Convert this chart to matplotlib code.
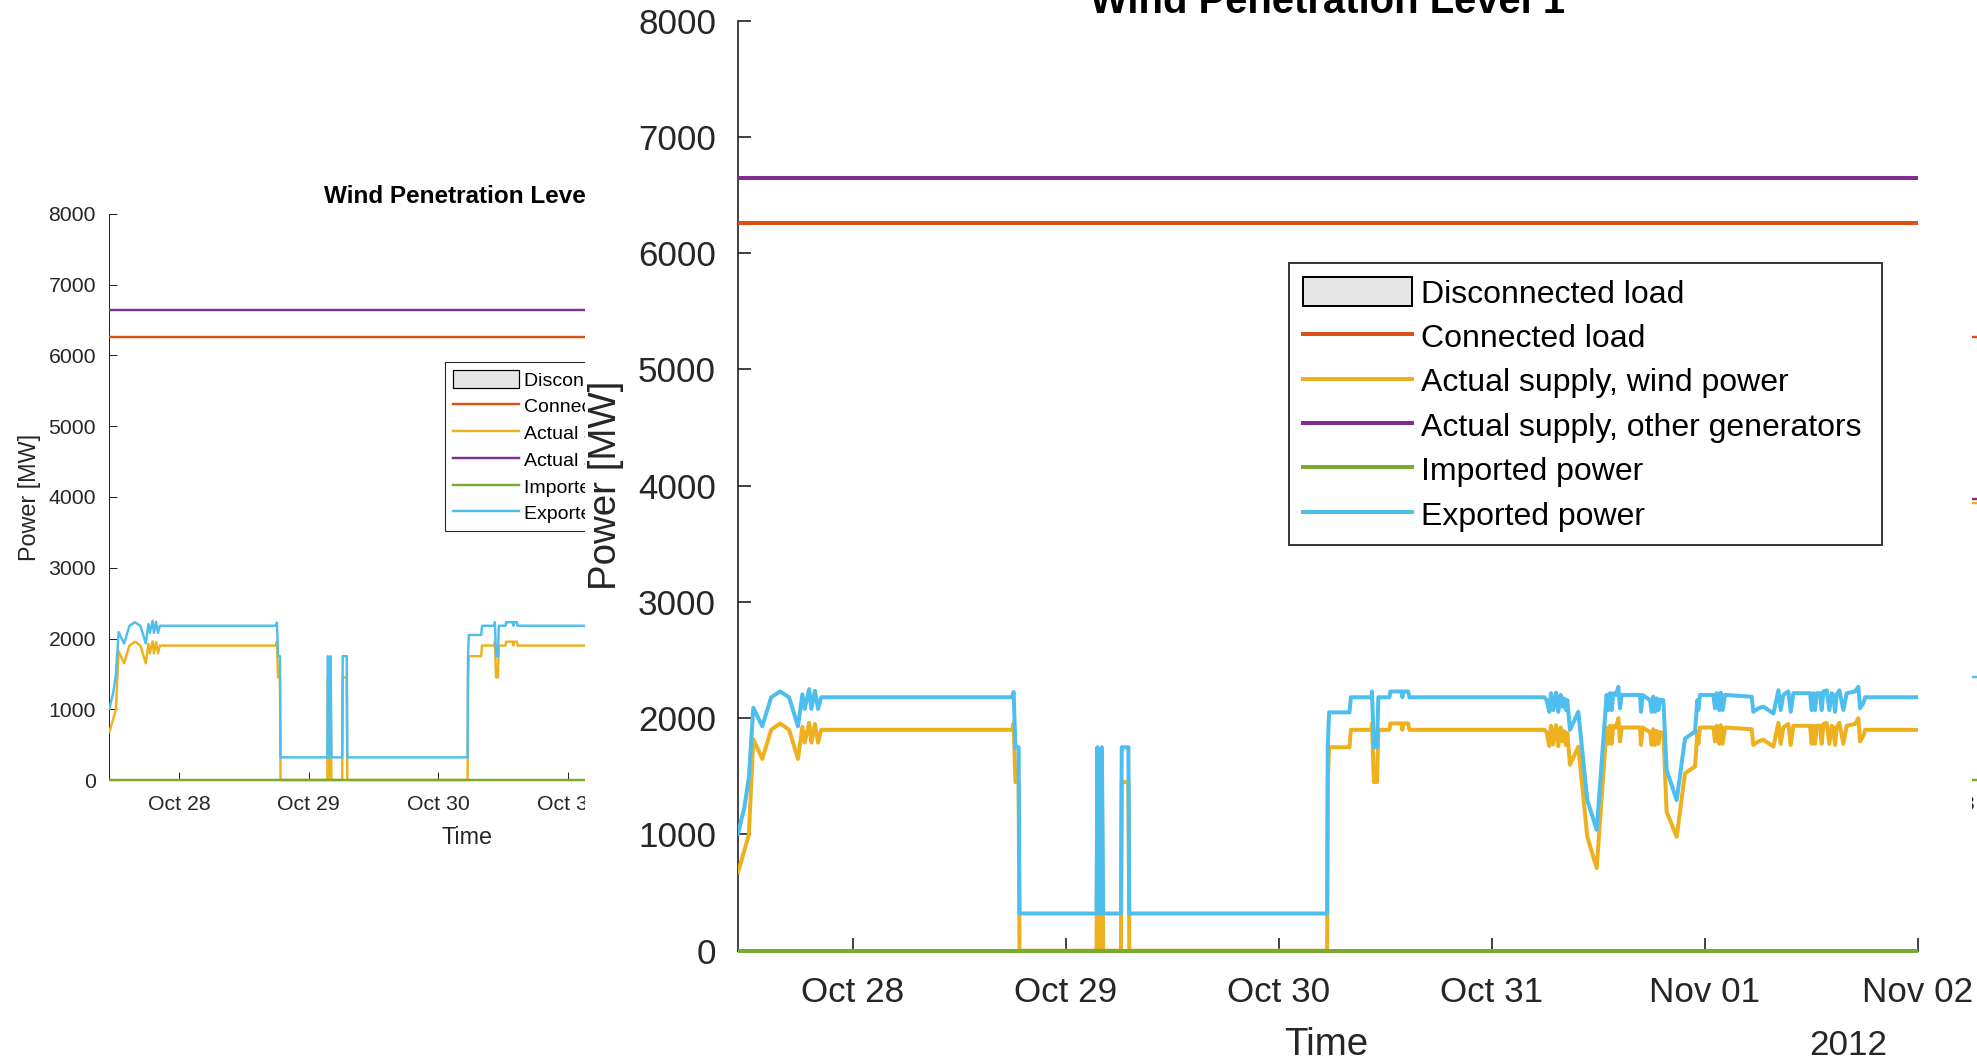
import numpy as np
import matplotlib
matplotlib.use("Agg")
import matplotlib.pyplot as plt
import matplotlib.dates as mdates
from matplotlib.patches import Rectangle, Patch
from matplotlib.transforms import Bbox, TransformedBbox
from datetime import datetime

plt.rcParams['font.family'] = ['Liberation Sans', 'DejaVu Sans']

# ---------------------------------------------------------------------------
# Data: hours after 2012-10-28 00:00, power in MW
# ---------------------------------------------------------------------------
hours = [
    -13.00, -12.23, -11.72, -11.22, -10.21, -9.21, -8.20, -7.19, -6.19, -5.69,
    -5.43, -4.93, -4.68, -4.28, -3.92, -3.57, 17.96, 18.11, 18.31, 18.67,
    18.77, 27.45, 27.55, 27.70, 27.95, 28.05, 28.20, 30.20, 30.29, 31.04,
    31.14, 53.43, 53.50, 53.65, 55.95, 56.10, 58.40, 58.48, 58.70, 59.05,
    59.20, 60.45, 60.55, 61.80, 61.90, 62.05, 62.55, 62.70, 77.90, 78.16,
    78.46, 78.65, 78.91, 79.21, 79.48, 79.74, 79.97, 80.12, 80.34, 80.49,
    80.79, 81.73, 82.74, 83.80, 84.92, 85.11, 85.30, 85.49, 85.67, 85.97,
    86.24, 86.43, 86.61, 88.68, 88.79, 88.98, 89.81, 90.00, 90.18, 90.37,
    90.56, 90.75, 90.93, 91.31, 91.68, 92.81, 93.75, 94.88, 95.14, 95.25,
    95.44, 96.94, 97.13, 97.32, 97.62, 97.77, 97.99, 98.26, 101.26, 101.45,
    102.01, 102.58, 103.71, 104.27, 104.53, 104.83, 105.39, 105.66, 105.96, 107.84,
    108.02, 108.21, 108.40, 108.59, 108.96, 109.15, 109.34, 109.71, 110.01, 110.28,
    110.46, 110.65, 110.84, 111.14, 111.59, 111.97, 112.91, 113.28, 113.47, 113.85,
    114.04, 144.00,
]

exported_mw = [
    990, 1230, 1490, 2090, 1930, 2180, 2230, 2180, 1930, 2205,
    2080, 2250, 2080, 2235, 2080, 2180, 2180, 2225, 1750, 1750,
    320, 320, 1750, 320, 320, 1750, 320, 320, 1750, 1750,
    320, 320, 1750, 2050, 2050, 2180, 2180, 2230, 1750, 1750,
    2180, 2180, 2230, 2230, 2180, 2230, 2230, 2180, 2180, 2155,
    2055, 2215, 2070, 2220, 2055, 2200, 2100, 2170, 2070, 2155,
    1900, 2055, 1295, 1040, 2200, 2070, 2215, 2070, 2215, 2200,
    2270, 2085, 2200, 2200, 2055, 2200, 2155, 2055, 2185, 2055,
    2170, 2070, 2160, 2155, 1555, 1295, 1825, 1885, 2155, 2070,
    2200, 2200, 2085, 2215, 2070, 2220, 2070, 2200, 2185, 2055,
    2085, 2100, 2040, 2240, 2070, 2200, 2230, 2055, 2215, 2215,
    2070, 2215, 2070, 2215, 2215, 2070, 2230, 2240, 2070, 2215,
    2200, 2055, 2200, 2240, 2070, 2215, 2230, 2270, 2085, 2130,
    2180, 2180,
]

wind_mw = [
    660, 860, 1000, 1820, 1650, 1900, 1955, 1900, 1650, 1925,
    1790, 1960, 1790, 1950, 1790, 1900, 1900, 1955, 1450, 1450,
    0, 0, 1450, 0, 0, 1450, 0, 0, 1450, 1450,
    0, 0, 1450, 1750, 1750, 1900, 1900, 1955, 1450, 1450,
    1900, 1900, 1955, 1955, 1900, 1955, 1955, 1900, 1900, 1880,
    1760, 1935, 1775, 1940, 1760, 1920, 1800, 1890, 1770, 1875,
    1600, 1755, 980, 710, 1920, 1780, 1935, 1780, 1935, 1920,
    2000, 1800, 1920, 1920, 1770, 1920, 1880, 1770, 1905, 1770,
    1890, 1780, 1880, 1875, 1195, 980, 1525, 1585, 1880, 1780,
    1920, 1920, 1800, 1935, 1780, 1940, 1780, 1920, 1905, 1770,
    1800, 1815, 1755, 1960, 1780, 1920, 1950, 1770, 1935, 1935,
    1780, 1935, 1780, 1935, 1935, 1780, 1950, 1960, 1780, 1935,
    1920, 1770, 1920, 1960, 1780, 1935, 1950, 2000, 1800, 1850,
    1900, 1900,
]

connected_load_mw = 6260
other_generators_mw = 6645
imported_mw = 0

# Second scenario, only its opening hours
level2_hours = [-13.0, 12.0]
level2_connected_mw = [6260, 6260]
level2_other_mw = [3965, 3965]
level2_wind_mw = [3915, 3915]
level2_exported_mw = [1455, 1455]
level2_imported_mw = [0, 0]

legend_labels = ['Disconnected load', 'Connected load', 'Actual supply, wind power',
                 'Actual supply, other generators', 'Imported power', 'Exported power']

C_CONN = '#D95319'
C_WIND = '#EDB120'
C_OTHER = '#7E2F8E'
C_IMP = '#77AC30'
C_EXP = '#4DBEEE'
C_AX = '#262626'

W, H = 1977, 1062
PX = 0.72  # points per pixel at 100 dpi

BASE = mdates.date2num(datetime(2012, 10, 28))
X0 = mdates.date2num(datetime(2012, 10, 27, 11))
X1 = mdates.date2num(datetime(2012, 11, 2))


def to_x(h):
    return BASE + np.asarray(h, dtype=float) / 24.0


def draw_panel(ax, s, h, conn, wind, other, imp, exp, title, title_gap_px, height_px):
    lw = 4.0 * s * PX
    t = to_x(h)
    # clip to the x range only, so the zero line keeps its full width
    clip = TransformedBbox(Bbox([[0, -0.05], [1, 1.05]]), ax.transAxes)
    for y, c in ((conn, C_CONN), (wind, C_WIND), (other, C_OTHER), (imp, C_IMP), (exp, C_EXP)):
        ln, = ax.plot(t, y, color=c, lw=lw, zorder=3, solid_capstyle='butt')
        ln.set_clip_box(clip)
        ln.set_clip_path(None)

    ax.set_xlim(X0, X1)
    ax.set_ylim(0, 8000)
    ax.set_yticks(np.arange(0, 8001, 1000))
    ax.xaxis.set_major_locator(mdates.DayLocator())
    ax.xaxis.set_major_formatter(mdates.DateFormatter('%b %d'))

    for side in ('top', 'right'):
        ax.spines[side].set_visible(False)
    for side in ('left', 'bottom'):
        ax.spines[side].set_linewidth(1.7 * s * PX)
        ax.spines[side].set_color(C_AX)

    tick_fs = 35 * s * PX
    ax.tick_params(direction='in', length=13 * s * PX, width=1.7 * s * PX,
                   colors=C_AX, labelsize=tick_fs)
    ax.tick_params(axis='y', pad=21.5 * s * PX)
    ax.tick_params(axis='x', pad=25 * s * PX)

    label_fs = 38.5 * s * PX
    ax.text(-0.1114, 0.5, 'Power [MW]', rotation=90, ha='center', va='center',
            transform=ax.transAxes, fontsize=label_fs, color=C_AX)
    ax.text(0.4985, -0.1122, 'Time', ha='center', va='baseline',
            transform=ax.transAxes, fontsize=label_fs, color=C_AX)
    ax.text(0.9407, -0.1122, '2012', ha='center', va='baseline',
            transform=ax.transAxes, fontsize=tick_fs, color=C_AX)
    ax.text(0.5, 1 + title_gap_px / height_px, title, ha='center', va='baseline',
            transform=ax.transAxes, fontsize=40 * s * PX, fontweight='bold', color='black')

    handles = [
        Patch(facecolor='#E6E6E6', edgecolor='black', linewidth=2.0 * s * PX),
        plt.Line2D([], [], color=C_CONN, lw=lw),
        plt.Line2D([], [], color=C_WIND, lw=lw),
        plt.Line2D([], [], color=C_OTHER, lw=lw),
        plt.Line2D([], [], color=C_IMP, lw=lw),
        plt.Line2D([], [], color=C_EXP, lw=lw),
    ]
    leg = ax.legend(handles, legend_labels, loc='upper left',
                    bbox_to_anchor=(0.4675, 0.7391, 0.502, 0.0), mode='expand',
                    bbox_transform=ax.transAxes, borderaxespad=0, fontsize=32 * s * PX,
                    handlelength=3.4, handleheight=1.05, handletextpad=0.28,
                    borderpad=0.42, labelspacing=0.365, fancybox=False, framealpha=1)
    leg.get_frame().set_edgecolor(C_AX)
    leg.get_frame().set_linewidth(1.8 * s * PX)
    for txt in leg.get_texts():
        txt.set_color('black')


def fig_rect(left, top, right, bottom):
    return [left / W, 1 - bottom / H, (right - left) / W, (bottom - top) / H]


fig = plt.figure(figsize=(W / 100, H / 100), dpi=100)
fig.patch.set_facecolor('white')

n = len(hours)
ones = np.ones(n)

# small overview panel
S_SMALL = 0.608
ax1 = fig.add_axes(fig_rect(109, 214, 827, 780))
ax1.set_zorder(1)
draw_panel(ax1, S_SMALL, hours, connected_load_mw * ones, wind_mw, other_generators_mw * ones,
           imported_mw * ones, exported_mw, 'Wind Penetration Level 1', 10.7, 566)

# next scenario panel at the far right
ax3 = fig.add_axes(fig_rect(1873, 214, 2591, 780))
ax3.set_zorder(1)
draw_panel(ax3, S_SMALL, level2_hours, level2_connected_mw, level2_wind_mw, level2_other_mw,
           level2_imported_mw, level2_exported_mw, 'Wind Penetration Level 2', 10.7, 566)

# enlarged view sits on a white sheet
sheet = Rectangle((585 / W, 0), (1972 - 585) / W, 1, transform=fig.transFigure,
                  facecolor='white', edgecolor='none', zorder=2)
fig.add_artist(sheet)

ax2 = fig.add_axes(fig_rect(737.5, 20.7, 1918, 950.7))
ax2.set_zorder(3)
draw_panel(ax2, 1.0, hours, connected_load_mw * ones, wind_mw, other_generators_mw * ones,
           imported_mw * ones, exported_mw, 'Wind Penetration Level 1', 7.7, 930)

fig.savefig('out.png', dpi=100, facecolor='white')
